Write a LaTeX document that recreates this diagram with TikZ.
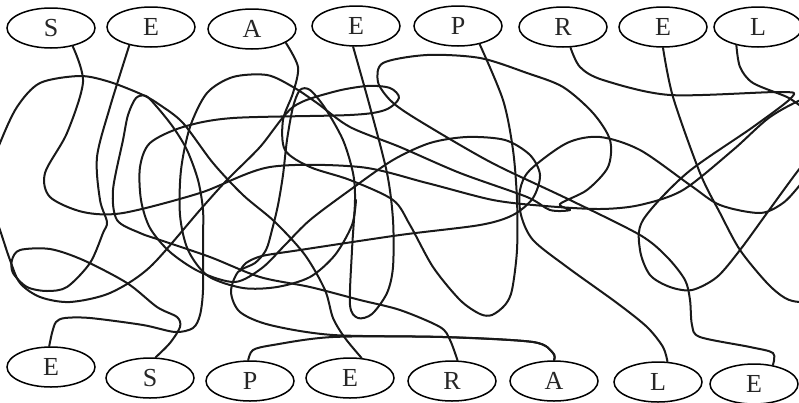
\documentclass[tikz,border=0pt]{standalone}
\usepackage{fontspec}
\setmainfont{Liberation Serif}
\usetikzlibrary{shapes.geometric}
\tikzset{
  lbl/.style={draw, line width=1.5pt, ellipse, minimum width=88pt, minimum height=40pt, inner sep=0pt, text=black!85, font=\fontsize{26}{26}\selectfont},
  strand/.style={line width=2pt, line cap=round, line join=round, black!90},
}
\begin{document}
\begin{tikzpicture}[x=1pt,y=-1pt]
\useasboundingbox (0,0) rectangle (799,402);
\clip (0,0) rectangle (799,402);
% top row
\node[lbl] (s1) at (51,28) {S};
\node[lbl] (e1) at (151,27) {E};
\node[lbl] (a1) at (252,29) {A};
\node[lbl] (e2) at (356,26) {E};
\node[lbl] (p1) at (458,26) {P};
\node[lbl] (r1) at (563,27) {R};
\node[lbl] (e3) at (663,27) {E};
\node[lbl] (l1) at (758,27) {L};
% bottom row
\node[lbl] (eb) at (51,367) {E};
\node[lbl] (sb) at (150,378) {S};
\node[lbl] (pb) at (250,381) {P};
\node[lbl] (emb) at (350,378) {E};
\node[lbl] (rb) at (452,381) {R};
\node[lbl] (ab) at (554,381) {A};
\node[lbl] (lb) at (658,382) {L};
\node[lbl] (erb) at (754,384) {E};
\coordinate (offE) at (825,300);
\coordinate (k7end) at (240,271);
\coordinate (k10end) at (356,200);
% K1
\draw[strand] plot[smooth] coordinates {(s1.-40) (83,82) (67,133) (45,173) (50,197) (83,212) (123,213) (200,193) (270,167) (360,167) (427,183) (493,200) (545,206) (600,209) (640,205) (683,190) (733,150) (770,117) (806,98) (825,100) (806,108) (787,97) (753,83) (740,67) (l1.-140)};
% K2
\draw[strand] plot[smooth] coordinates {(e1.-140) (110,107) (97,157) (100,200) (107,222) (103,233) (90,263) (67,287) (47,291) (27,287) (13,273) (12,260) (20,250) (50,249) (83,260) (127,283) (157,307) (177,317) (180,327) (170,343) (sb.75)};
% K3
\draw[strand] plot[smooth] coordinates {(eb.95) (52,333) (56,322) (65,318) (90,318) (143,325) (175,332) (193,328) (200,315) (203,290) (203,240) (203,210) (198,180) (187,150) (173,127) (157,107) (146,96) (136,98) (128,115) (123,140) (113,190) (117,220) (140,233) (160,240) (210,257) (260,277) (310,287) (360,300) (400,310) (440,327) (450,340) (rb.75)};
% K4
\draw[strand] plot[smooth] coordinates {(a1.-22) (298,67) (293,93) (283,120) (285,150) (310,167) (350,180) (393,200) (410,225) (433,267) (460,300) (480,314) (492,315) (505,305) (512,290) (517,250) (517,200) (513,150) (503,100) (p1.-40)};
% K5
\draw[strand] plot[smooth] coordinates {(r1.-70) (580,67) (603,80) (670,95) (780,92) (792,97) (753,127) (687,173) (643,220) (640,250) (650,275) (670,287) (692,290) (717,277) (740,250) (767,213) (797,172) (808,160) (813,168) (800,185) (783,203) (760,213) (720,205) (690,185) (640,150) (600,137) (567,143) (530,170) (520,190) (521,215) (533,240) (567,267) (617,303) (647,327) (663,347) (lb.65)};
% K6
\draw[strand] plot[smooth] coordinates {(e3.-90) (673,97) (700,173) (720,213) (740,250) (767,283) (785,298) (800,302) (offE)};
% K7
\draw[strand] plot[smooth] coordinates {(emb.60) (345,338) (333,318) (325,290) (305,255) (275,222) (243,195) (213,163) (183,123) (160,105) (143,95) (110,82) (80,76) (40,83) (17,107) (0,143) (-15,185) (0,230) (10,260) (20,283) (40,297) (70,302) (110,293) (150,267) (200,210) (227,180) (260,147) (293,107) (333,92) (367,86) (390,88) (399,98) (385,110) (350,115) (233,118) (183,127) (150,143) (140,167) (141,200) (150,228) (170,252) (200,272) (235,282) (262,268) (285,245) (310,220) (350,190) (393,160) (430,143) (467,137) (505,140) (530,155) (540,175) (533,198) (513,215) (480,225) (400,235) (300,250) (262,256) (246,263) (k7end)};
% K8
\draw[strand] plot[smooth] coordinates {(e2.-98) (370,107) (387,173) (393,220) (393,267) (387,293) (372,314) (358,318) (350,305) (352,250) (355,200) (353,173) (343,140) (325,108) (310,90) (300,90) (293,107) (287,140) (283,175) (278,205) (272,230) (266,250) (255,263) (238,272) (231,292) (240,312) (270,325) (333,335) (443,337) (533,342) (553,353) (ab.90)};
% K9
\draw[strand] plot[smooth] coordinates {(pb.95) (253,350) (273,345) (333,337) (443,337) (533,342) (553,353) (ab.90)};
% K10
\draw[strand] plot[smooth] coordinates {(erb.45) (773,353) (750,347) (700,337) (692,325) (690,300) (685,280) (667,257) (640,235) (570,200) (500,167) (460,145) (410,115) (390,100) (378,82) (383,63) (427,55) (480,58) (527,73) (563,87) (593,113) (610,140) (608,167) (587,190) (560,204) (570,210) (550,210) (527,197) (460,173) (400,147) (350,127) (317,103) (293,87) (267,75) (233,77) (207,93) (190,127) (181,170) (180,215) (188,250) (208,276) (243,288) (277,287) (310,277) (335,255) (352,225) (k10end)};
\end{tikzpicture}
\end{document}
